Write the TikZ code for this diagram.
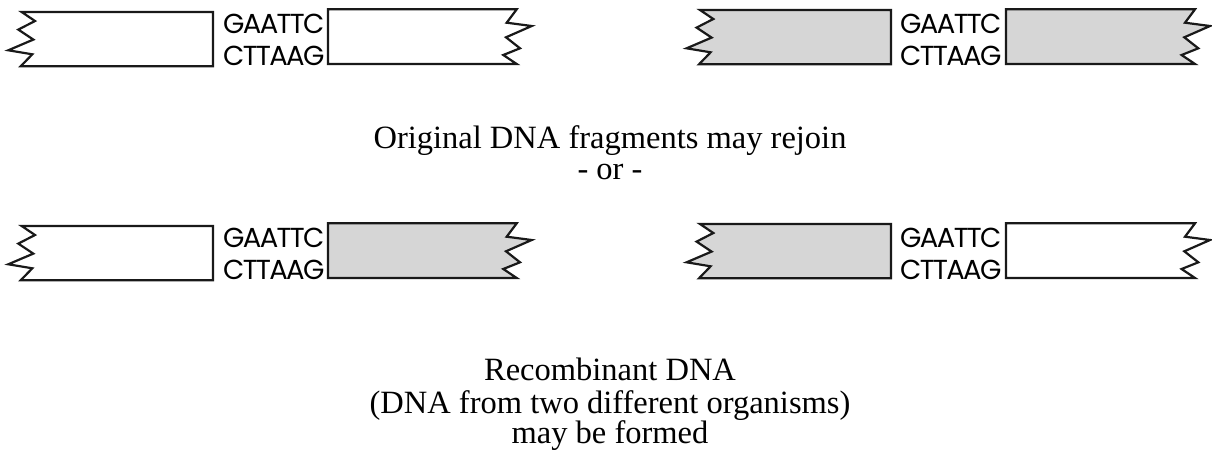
\documentclass[tikz,border=0pt]{standalone}
\usepackage{fontspec}
\setmainfont{Liberation Serif}
\newfontfamily\seqfont[LetterSpace=-6]{Poppins}
\definecolor{dnagrey}{HTML}{D6D6D6}
\newcommand\leftjag[5]{% xcorner, ytop, xright, ybot, fill
  \filldraw[dnabox,fill=#5] (#3,#2) -- (#1,#2) -- ++(13.3,9) -- ++(-16.7,8.6) -- ++(15,10)
    -- ++(-25,10.7) -- ++(24,4) -- ++(-11.6,12) -- (#3,#4) -- cycle;}
\newcommand\rightjag[5]{% xleft, ytop, xcorner, ybot, fill
  \filldraw[dnabox,fill=#5] (#1,#2) -- (#3,#2) -- ++(-10,13.4) -- ++(25,3.3) -- ++(-25.7,11.3)
    -- ++(14,11) -- ++(-16.7,6.7) -- ++(13.4,9) -- (#1,#4) -- cycle;}
\begin{document}
\begin{tikzpicture}[x=1pt,y=-1pt,
  dnabox/.style={draw=black!90,line width=2.2pt,line join=miter},
  seq/.style={anchor=base west,inner sep=0pt,font=\seqfont\fontsize{27.5}{28}\selectfont},
  caption/.style={anchor=base,inner sep=0pt,font=\fontsize{32.5}{34}\selectfont}]
\useasboundingbox (0,0) rectangle (1212,451);
% row 1
\leftjag{21.7}{12}{213}{66.3}{white}
\rightjag{328}{9.3}{516.7}{64}{white}
\node[seq] (s1a) at (223,33.5) {GAATTC};
\node[seq] (s1b) at (223,65.5) {CTTAAG};
\leftjag{700}{10}{891}{64.3}{dnagrey}
\rightjag{1006}{9.3}{1195}{64}{dnagrey}
\node[seq] (s2a) at (900,33.5) {GAATTC};
\node[seq] (s2b) at (900,65.5) {CTTAAG};
% captions
\node[caption] (c1) at (610,148) {Original DNA fragments may rejoin};
\node[caption] (c2) at (610,179) {- or -};
% row 2
\leftjag{21.7}{226}{213}{280.3}{white}
\rightjag{328}{223.3}{516.7}{278}{dnagrey}
\node[seq] (s3a) at (223,247.5) {GAATTC};
\node[seq] (s3b) at (223,279.5) {CTTAAG};
\leftjag{700}{224}{891}{278.3}{dnagrey}
\rightjag{1006}{223.3}{1195}{278}{white}
\node[seq] (s4a) at (900,247.5) {GAATTC};
\node[seq] (s4b) at (900,279.5) {CTTAAG};
% bottom captions
\node[caption] (c3) at (610,380) {Recombinant DNA};
\node[caption] (c4) at (610,413) {(DNA from two different organisms)};
\node[caption] (c5) at (610,443) {may be formed};
\end{tikzpicture}
\end{document}
